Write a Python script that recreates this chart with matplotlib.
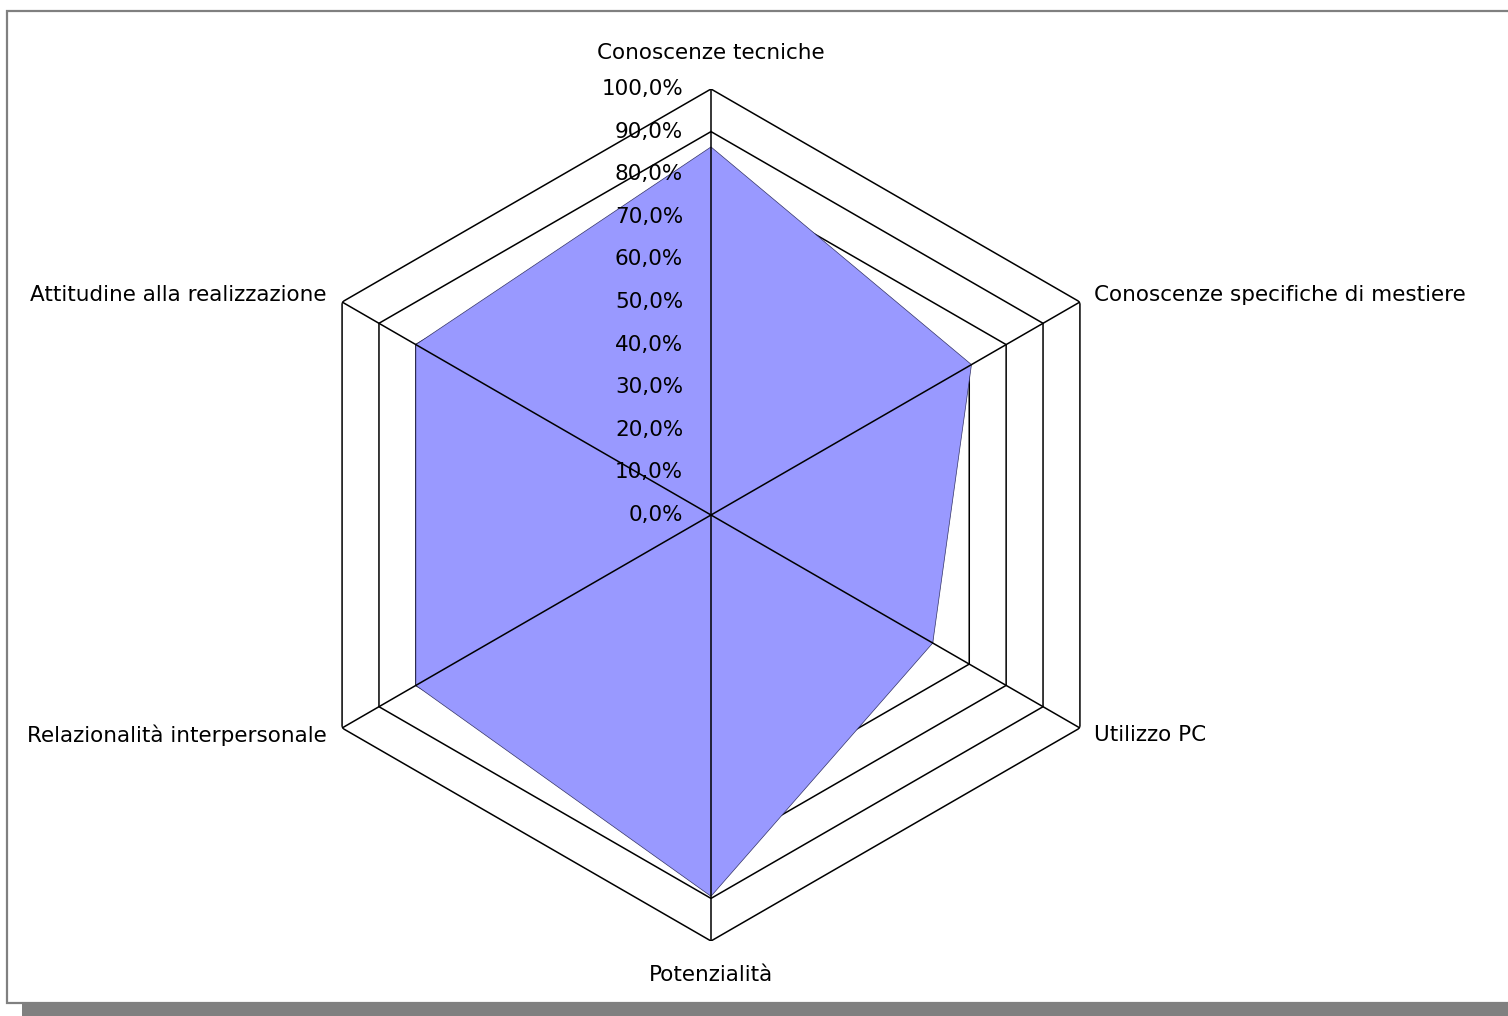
import numpy as np
import matplotlib.pyplot as plt
from matplotlib.patches import Rectangle

# categories and values
categories = ["Conoscenze tecniche", "Conoscenze specifiche di mestiere", "Utilizzo PC",
              "Potenzialità", "Relazionalità interpersonale", "Attitudine alla realizzazione"]
values = [0.864, 0.706, 0.601, 0.895, 0.80, 0.80]
ring_levels = [0.0, 0.1, 0.2, 0.3, 0.4, 0.5, 0.6, 0.7, 0.8, 0.9, 1.0]
ring_labels = ["0,0%", "10,0%", "20,0%", "30,0%", "40,0%", "50,0%",
               "60,0%", "70,0%", "80,0%", "90,0%", "100,0%"]

font_size = 15.5
W, H = 1508, 1016

fig = plt.figure(figsize=(W / 100, H / 100), dpi=100)
fig.patch.set_facecolor("white")

# frame with shadow, like the Excel chart area
fig.add_artist(Rectangle((22 / W, 0), 1 - 22 / W, 12 / H, transform=fig.transFigure,
                         facecolor="#808080", edgecolor="none", zorder=0))
fig.add_artist(Rectangle((7 / W, 13 / H), 1.2, 1 - 24 / H, transform=fig.transFigure,
                         facecolor="white", edgecolor="#808080", linewidth=1.6, zorder=0))

# polar axes: centre at (711, 515) px, 100% radius 426 px
cx, cy, R = 711, H - 515, 426
ax = fig.add_axes([(cx - R) / W, (cy - R) / H, 2 * R / W, 2 * R / H], projection="polar")
ax.set_theta_offset(np.pi / 2)
ax.set_theta_direction(-1)
ax.set_ylim(0, 1.0)
ax.set_facecolor("none")
ax.grid(False)
ax.spines["polar"].set_visible(False)
ax.set_xticks([])
ax.set_yticks([])

n = len(categories)
angles = np.arange(n) * 2 * np.pi / n
closed = np.append(angles, angles[0])

# hexagon rings
for lv in ring_levels[1:]:
    ax.plot(closed, [lv] * (n + 1), color="black", linewidth=1.1, zorder=1)

# series fill
vals = np.append(values, values[0])
ax.fill(closed, vals, facecolor="#9999FF", edgecolor="#333366", linewidth=0.5, zorder=2)

# spokes
for a in angles:
    ax.plot([a, a], [0, 1.0], color="black", linewidth=1.1, zorder=3)

# value labels along the top spoke
for lv, lab in zip(ring_levels, ring_labels):
    ax.annotate(lab, xy=(0, lv), xytext=(-20, 0), textcoords="offset points",
                ha="right", va="center", fontsize=font_size, zorder=4,
                annotation_clip=False)

# category labels
offsets = [(0, 19, "center", "bottom"), (10, 5, "left", "center"), (10, -5, "left", "center"),
           (0, -17, "center", "top"), (-11, -5, "right", "center"), (-11, 5, "right", "center")]
for a, lab, (dx, dy, ha, va) in zip(angles, categories, offsets):
    ax.annotate(lab, xy=(a, 1.0), xytext=(dx, dy), textcoords="offset points",
                ha=ha, va=va, fontsize=font_size, annotation_clip=False)

plt.savefig("out.png", dpi=100)
